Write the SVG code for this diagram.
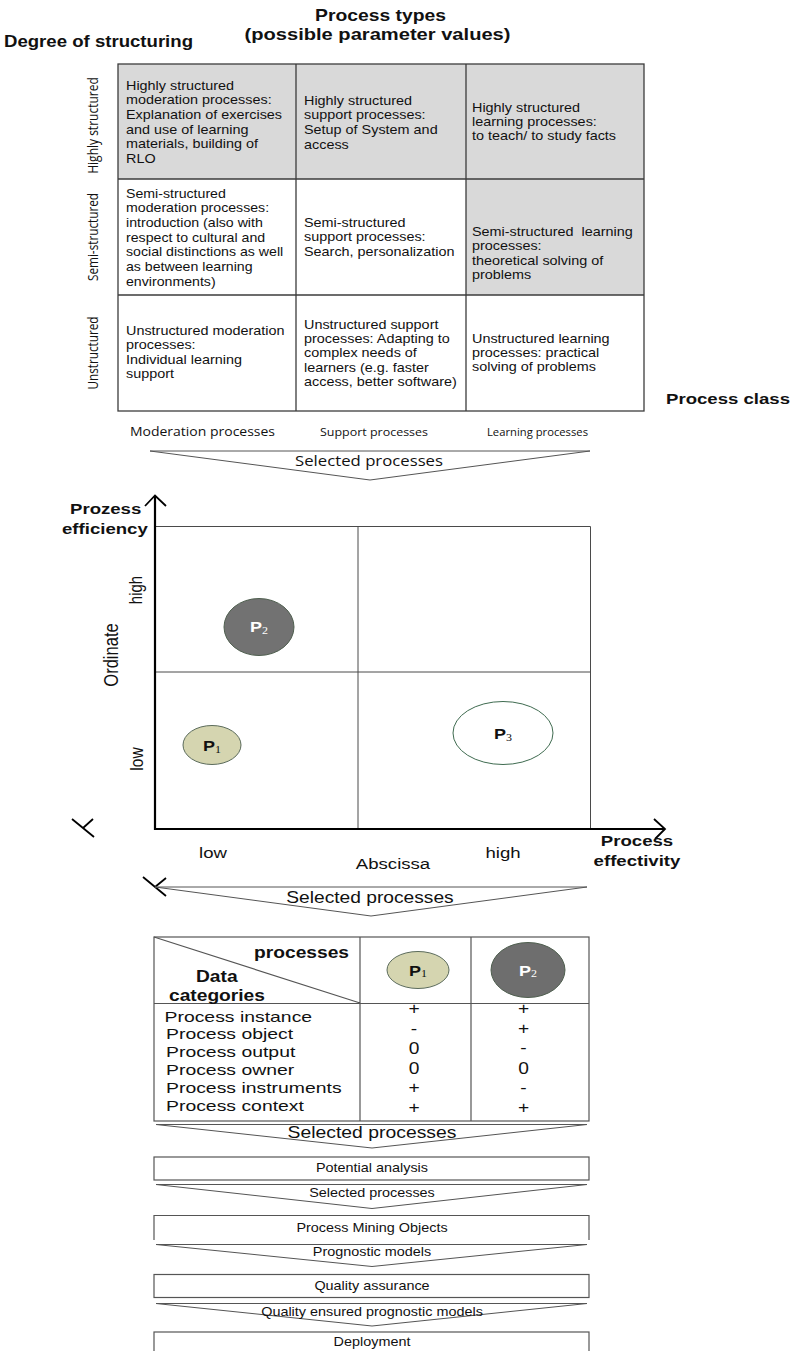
<svg xmlns="http://www.w3.org/2000/svg" width="798" height="1351" viewBox="0 0 798 1351">
<style>
text{font-family:"Liberation Sans",Arial,sans-serif;fill:#111}
.b{font-weight:bold}
.cal{font-family:"Open Sans","Liberation Sans",sans-serif}
.cell{font-size:12px}
.mid{text-anchor:middle}
.end{text-anchor:end}
.grid{fill:none;stroke:#3c3c3c;stroke-width:1.3}
.shade{fill:#d9d9d9}
.plain{fill:#fff}
.thin{fill:none;stroke:#4a4a4a;stroke-width:1}
.axis{fill:none;stroke:#000;stroke-width:2.2}
.mark{fill:none;stroke:#000;stroke-width:1.8}
.chev{fill:#fff;stroke:#555;stroke-width:1}
.box{fill:#fff;stroke:#555;stroke-width:1.2}
.sub{font-family:"Liberation Serif",serif;font-weight:normal;font-size:10px}
.lbl{font-size:15.4px}
.val{font-size:16px}
.step{font-size:12px}
</style>

<!-- headings -->
<g id="headings">
  <text class="b mid" x="380.5" y="21" font-size="17" textLength="131" lengthAdjust="spacingAndGlyphs">Process types</text>
  <text class="b mid" x="377.5" y="40" font-size="17" textLength="266" lengthAdjust="spacingAndGlyphs">(possible parameter values)</text>
  <text class="b" x="4" y="47" font-size="17" textLength="189" lengthAdjust="spacingAndGlyphs">Degree of structuring</text>
  <text class="b" x="666" y="404" font-size="15.5" textLength="124" lengthAdjust="spacingAndGlyphs">Process class</text>
</g>

<!-- process type matrix -->
<g id="matrix">
  <g id="cell-hs-moderation">
    <rect class="shade" x="118" y="64" width="178" height="115"/>
    <text class="cell" transform="translate(126 89.5) scale(1.2 1)"><tspan x="0" y="0">Highly structured</tspan><tspan x="0" dy="14.7">moderation processes:</tspan><tspan x="0" dy="14.7">Explanation of exercises</tspan><tspan x="0" dy="14.7">and use of learning</tspan><tspan x="0" dy="14.7">materials, building of</tspan><tspan x="0" dy="14.7">RLO</tspan></text>
  </g>
  <g id="cell-hs-support">
    <rect class="shade" x="296" y="64" width="170" height="115"/>
    <text class="cell" transform="translate(304 104.5) scale(1.2 1)"><tspan x="0" y="0">Highly structured</tspan><tspan x="0" dy="14.7">support processes:</tspan><tspan x="0" dy="14.7">Setup of System and</tspan><tspan x="0" dy="14.7">access</tspan></text>
  </g>
  <g id="cell-hs-learning">
    <rect class="shade" x="466" y="64" width="178" height="115"/>
    <text class="cell" transform="translate(472 111.5) scale(1.2 1)"><tspan x="0" y="0">Highly structured</tspan><tspan x="0" dy="14.5">learning processes:</tspan><tspan x="0" dy="14.5">to teach/ to study facts</tspan></text>
  </g>
  <g id="cell-ss-moderation">
    <rect class="plain" x="118" y="179" width="178" height="116"/>
    <text class="cell" transform="translate(126 197.5) scale(1.18 1)"><tspan x="0" y="0">Semi-structured</tspan><tspan x="0" dy="14.7">moderation processes:</tspan><tspan x="0" dy="14.7">introduction (also with</tspan><tspan x="0" dy="14.7">respect to cultural and</tspan><tspan x="0" dy="14.7">social distinctions as well</tspan><tspan x="0" dy="14.7">as between learning</tspan><tspan x="0" dy="14.7">environments)</tspan></text>
  </g>
  <g id="cell-ss-support">
    <rect class="plain" x="296" y="179" width="170" height="116"/>
    <text class="cell" transform="translate(304 226.5) scale(1.2 1)"><tspan x="0" y="0">Semi-structured</tspan><tspan x="0" dy="14.8">support processes:</tspan><tspan x="0" dy="14.8">Search, personalization</tspan></text>
  </g>
  <g id="cell-ss-learning">
    <rect class="shade" x="466" y="179" width="178" height="116"/>
    <text class="cell" transform="translate(472 236) scale(1.2 1)"><tspan x="0" y="0">Semi-structured&#160; learning</tspan><tspan x="0" dy="14.3">processes:</tspan><tspan x="0" dy="14.3">theoretical solving of</tspan><tspan x="0" dy="14.3">problems</tspan></text>
  </g>
  <g id="cell-us-moderation">
    <rect class="plain" x="118" y="295" width="178" height="116"/>
    <text class="cell" transform="translate(126 335) scale(1.2 1)"><tspan x="0" y="0">Unstructured moderation</tspan><tspan x="0" dy="14.5">processes:</tspan><tspan x="0" dy="14.5">Individual learning</tspan><tspan x="0" dy="14.5">support</tspan></text>
  </g>
  <g id="cell-us-support">
    <rect class="plain" x="296" y="295" width="170" height="116"/>
    <text class="cell" transform="translate(304 328.5) scale(1.2 1)"><tspan x="0" y="0">Unstructured support</tspan><tspan x="0" dy="14.4">processes: Adapting to</tspan><tspan x="0" dy="14.4">complex needs of</tspan><tspan x="0" dy="14.4">learners (e.g. faster</tspan><tspan x="0" dy="14.4">access, better software)</tspan></text>
  </g>
  <g id="cell-us-learning">
    <rect class="plain" x="466" y="295" width="178" height="116"/>
    <text class="cell" transform="translate(472 342.5) scale(1.2 1)"><tspan x="0" y="0">Unstructured learning</tspan><tspan x="0" dy="14.5">processes: practical</tspan><tspan x="0" dy="14.5">solving of problems</tspan></text>
  </g>
  <g id="matrix-lines">
    <rect class="grid" x="118" y="64" width="526" height="347"/>
    <path class="grid" d="M296 64V411M466 64V411M118 179H644M118 295H644"/>
  </g>
  <g id="row-labels">
    <text class="cal mid" font-size="12" transform="translate(98 125.5) scale(1.2 1) rotate(-90)">Highly structured</text>
    <text class="cal mid" font-size="12" transform="translate(98 237) scale(1.2 1) rotate(-90)" textLength="88" lengthAdjust="spacingAndGlyphs">Semi-structured</text>
    <text class="cal mid" font-size="12" transform="translate(98 353) scale(1.2 1) rotate(-90)" textLength="73" lengthAdjust="spacingAndGlyphs">Unstructured</text>
  </g>
  <g id="column-labels">
    <text class="cal mid" x="202.5" y="436" font-size="11.8" textLength="145" lengthAdjust="spacingAndGlyphs">Moderation processes</text>
    <text class="cal mid" x="374" y="436" font-size="10.8" textLength="108" lengthAdjust="spacingAndGlyphs">Support processes</text>
    <text class="cal mid" x="537.5" y="436" font-size="10.8" textLength="101" lengthAdjust="spacingAndGlyphs">Learning processes</text>
  </g>
</g>

<!-- portfolio chart -->
<g id="chart">
  <g id="chart-grid">
    <path class="thin" d="M155 526.5H590.5V829M358 526.5V829M155 672H590.5"/>
  </g>
  <g id="chart-axes">
    <path class="axis" d="M155 496V829H665"/>
    <path class="mark" d="M145 506L155 495.5L166 506"/>
    <path class="mark" d="M654 819L665 829L655 839"/>
  </g>
  <g id="axis-labels">
    <text class="b" transform="translate(70 514) scale(1.2 1)" font-size="15.5">Prozess</text>
    <text class="b" transform="translate(62 534) scale(1.2 1)" font-size="15.5">efficiency</text>
    <text class="mid" font-size="15" transform="translate(142 590) scale(1.2 1) rotate(-90)">high</text>
    <text class="mid" font-size="16.5" transform="translate(118 655) scale(1.2 1) rotate(-90)">Ordinate</text>
    <text class="mid" font-size="15.5" transform="translate(143 759) scale(1.2 1) rotate(-90)">low</text>
    <text class="mid" font-size="15.5" transform="translate(213 857.5) scale(1.2 1)">low</text>
    <text class="mid" font-size="15.5" transform="translate(393 869) scale(1.2 1)">Abscissa</text>
    <text class="mid" font-size="15.5" transform="translate(503 857.5) scale(1.2 1)">high</text>
    <text class="b mid" font-size="15.5" transform="translate(637 846) scale(1.2 1)">Process</text>
    <text class="b mid" font-size="15.5" transform="translate(637 866) scale(1.2 1)">effectivity</text>
  </g>
  <g id="node-p2">
    <ellipse cx="259" cy="627" rx="35" ry="28.5" fill="#727272" stroke="#4f5f4f" stroke-width="1"/>
    <text class="b mid" font-size="15" fill="#fff" transform="translate(259 632) scale(1.2 1)" style="fill:#fff">P<tspan class="sub" dy="2" style="fill:#fff">2</tspan></text>
  </g>
  <g id="node-p1">
    <ellipse cx="212" cy="745" rx="29" ry="19.5" fill="#d5d5b0" stroke="#5b6b5b" stroke-width="1"/>
    <text class="b mid" font-size="15" transform="translate(212 751) scale(1.2 1)">P<tspan class="sub" dy="2">1</tspan></text>
  </g>
  <g id="node-p3">
    <ellipse cx="503" cy="733" rx="50" ry="31.5" fill="#fff" stroke="#3f6b50" stroke-width="1"/>
    <text class="b mid" font-size="15" transform="translate(503 738.5) scale(1.2 1)">P<tspan class="sub" dy="2">3</tspan></text>
  </g>
  <g id="stray-marks">
    <path class="mark" d="M72 819L94 837M83 828L93 819"/>
    <path class="mark" d="M143 877L166 896M155 887L166 878"/>
  </g>
</g>

<!-- flow connectors -->
<g id="connectors">
  <g id="flow-1">
    <polygon class="chev" points="150,451 590,451 370,480"/>
    <text class="cal mid" x="369" y="465.5" font-size="14" textLength="148" lengthAdjust="spacingAndGlyphs">Selected processes</text>
  </g>
  <g id="flow-2">
    <polygon class="chev" points="155,887 587,887 371,916"/>
    <text class="mid val" transform="translate(370 902.5) scale(1.2 1)">Selected processes</text>
  </g>
  <g id="flow-3">
    <polygon class="chev" points="156,1124.5 587,1124.5 372,1148"/>
    <text class="mid val" transform="translate(372 1137.5) scale(1.21 1)">Selected processes</text>
  </g>
  <g id="flow-4">
    <polygon class="chev" points="156,1184.5 587,1184.5 372,1208.5"/>
    <text class="mid step" transform="translate(372 1196.5) scale(1.2 1)">Selected processes</text>
  </g>
  <g id="flow-5">
    <polygon class="chev" points="156,1244.5 587,1244.5 372,1266.5"/>
    <text class="mid step" transform="translate(372 1255.5) scale(1.2 1)">Prognostic models</text>
  </g>
  <g id="flow-6">
    <polygon class="chev" points="156,1303.5 587,1303.5 372,1326"/>
    <text class="mid step" transform="translate(372 1315.5) scale(1.2 1)">Quality ensured prognostic models</text>
  </g>
</g>

<!-- data category table -->
<g id="data-table">
  <rect class="box" x="154" y="937" width="435" height="184"/>
  <path class="box" d="M154 1003.5H589M360 937V1121M471 937V1121M154 937L360 1003"/>
  <text class="b end" font-size="16" transform="translate(349 958) scale(1.2 1)">processes</text>
  <text class="b" font-size="16" transform="translate(196 982) scale(1.2 1)">Data</text>
  <text class="b" font-size="16" transform="translate(169 1001) scale(1.2 1)">categories</text>
  <g id="table-p1">
    <ellipse cx="418" cy="970" rx="31" ry="18.5" fill="#d5d5b0" stroke="#5b6b5b" stroke-width="1"/>
    <text class="b mid" font-size="15" transform="translate(418 975.5) scale(1.2 1)">P<tspan class="sub" dy="1">1</tspan></text>
  </g>
  <g id="table-p2">
    <ellipse cx="528" cy="970" rx="37" ry="27.5" fill="#6e6e6e" stroke="#4f5f4f" stroke-width="1"/>
    <text class="b mid" font-size="15" transform="translate(528 976) scale(1.2 1)" style="fill:#fff">P<tspan class="sub" dy="1" style="fill:#fff">2</tspan></text>
  </g>
  <g id="table-rows">
    <text class="lbl" transform="translate(164.5 1021.7) scale(1.26 1)">Process instance</text>
    <text class="lbl" transform="translate(166 1039.3) scale(1.26 1)">Process object</text>
    <text class="lbl" transform="translate(166 1057.3) scale(1.26 1)">Process output</text>
    <text class="lbl" transform="translate(166 1075.3) scale(1.26 1)">Process owner</text>
    <text class="lbl" transform="translate(166 1093) scale(1.26 1)">Process instruments</text>
    <text class="lbl" transform="translate(166 1110.7) scale(1.26 1)">Process context</text>
  </g>
  <g id="table-values">
    <text class="mid val" transform="translate(414 1013.5) scale(1.2 1)">+</text>
    <text class="mid val" transform="translate(414 1034) scale(1.2 1)">-</text>
    <text class="mid val" transform="translate(414 1054) scale(1.2 1)">0</text>
    <text class="mid val" transform="translate(414 1074) scale(1.2 1)">0</text>
    <text class="mid val" transform="translate(414 1092.5) scale(1.2 1)">+</text>
    <text class="mid val" transform="translate(414 1112.5) scale(1.2 1)">+</text>
    <text class="mid val" transform="translate(523.5 1013.5) scale(1.2 1)">+</text>
    <text class="mid val" transform="translate(523.5 1033.5) scale(1.2 1)">+</text>
    <text class="mid val" transform="translate(523.5 1053) scale(1.2 1)">-</text>
    <text class="mid val" transform="translate(523.5 1074) scale(1.2 1)">0</text>
    <text class="mid val" transform="translate(523.5 1092.5) scale(1.2 1)">-</text>
    <text class="mid val" transform="translate(523.5 1112.5) scale(1.2 1)">+</text>
  </g>
</g>

<!-- pipeline steps -->
<g id="step-potential-analysis">
  <rect class="box" x="154" y="1157" width="435" height="23"/>
  <text class="mid step" transform="translate(372 1171.5) scale(1.2 1)">Potential analysis</text>
</g>
<g id="step-process-mining-objects">
  <path class="box" d="M154 1240V1215.5H589V1240"/>
  <text class="mid step" transform="translate(372 1231.5) scale(1.2 1)">Process Mining Objects</text>
</g>
<g id="step-quality-assurance">
  <rect class="box" x="154" y="1274.5" width="435" height="23"/>
  <text class="mid step" transform="translate(372 1289.5) scale(1.2 1)">Quality assurance</text>
</g>
<g id="step-deployment">
  <rect class="box" x="154" y="1332" width="435" height="30"/>
  <text class="mid step" transform="translate(372 1346) scale(1.2 1)">Deployment</text>
</g>
</svg>
